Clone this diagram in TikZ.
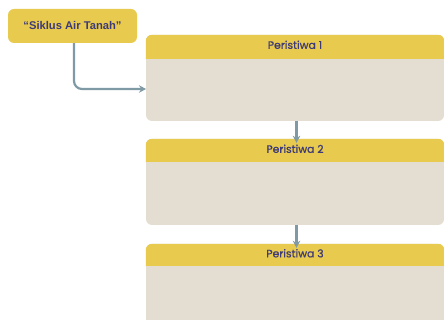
\documentclass[tikz,border=0pt]{standalone}
\usepackage{fontspec}
\setmainfont{Poppins}
\newfontfamily\titlefont{Liberation Sans}
\newfontfamily\hdrfont{Poppins}[FakeBold=0.8]
\usetikzlibrary{arrows.meta}
\definecolor{hdrcol}{HTML}{E8CB4E}
\definecolor{bodycol}{HTML}{E4DDD1}
\definecolor{conncol}{HTML}{7F9AA5}
\definecolor{txtcol}{HTML}{3E3A78}
\tikzset{
  evbox/.style={fill=bodycol, rounded corners=6pt, minimum width=298pt, inner sep=0pt},
  titlebox/.style={fill=hdrcol, rounded corners=6pt, minimum width=129pt, minimum height=34pt, inner sep=0pt,
    font=\titlefont\bfseries\fontsize{11.2}{13}\selectfont, text=txtcol},
  hdrtext/.style={font=\hdrfont\fontsize{10.8}{12}\selectfont, text=txtcol, inner sep=0pt},
  conn/.style={draw=conncol, line width=2.2pt, -{Stealth[length=7pt,width=7.5pt]}},
}
\begin{document}
\begin{tikzpicture}[x=1pt,y=-1pt]
\useasboundingbox (0,0) rectangle (444,320);
\clip (0,0) rectangle (444,320);
% title
\node[titlebox] (title) at (72.5,26) {“Siklus Air Tanah”};
% boxes
\node[evbox, minimum height=86pt] (p1) at (295,78) {};
\node[evbox, minimum height=86pt] (p2) at (295,182) {};
\node[evbox, minimum height=96pt] (p3) at (295,292) {};
\foreach \b/\h in {p1/24,p2/23,p3/22}{
  \fill[hdrcol] ([yshift=-\h pt]\b.north west) [rounded corners=6pt] -- (\b.north west) -- (\b.north east) [sharp corners] -- ([yshift=-\h pt]\b.north east) -- cycle;
}
\node[hdrtext] (t1) at ([yshift=-10pt]p1.north) {Peristiwa 1};
\node[hdrtext] (t2) at ([yshift=-10pt]p2.north) {Peristiwa 2};
\node[hdrtext] (t3) at ([yshift=-9.5pt]p3.north) {Peristiwa 3};
% connectors
\coordinate (e1) at (146,89);
\draw[conn, rounded corners=8pt] ([xshift=1.5pt]title.south) |- (e1);
\draw[conn] ([xshift=1.5pt]p1.south) -- ([xshift=1.5pt,yshift=-4pt]p2.north);
\draw[conn] ([xshift=1.5pt]p2.south) -- ([xshift=1.5pt,yshift=-4pt]p3.north);
\end{tikzpicture}
\end{document}
